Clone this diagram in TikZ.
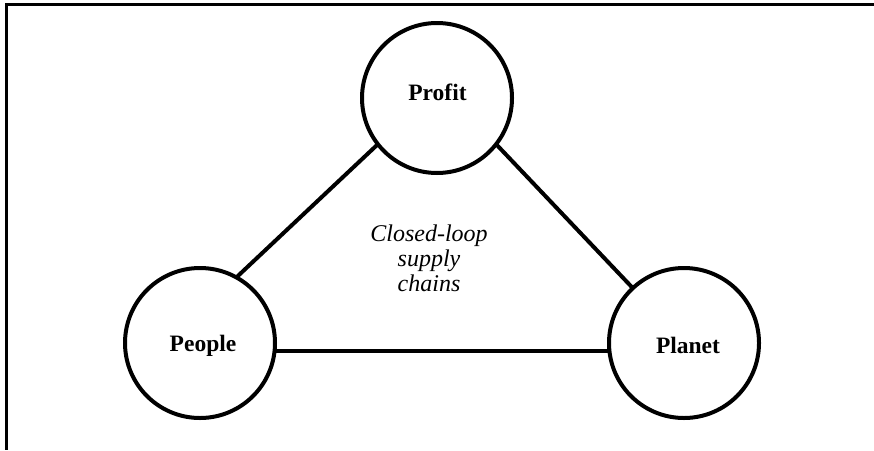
\documentclass[tikz,border=0pt]{standalone}
\usepackage{fontspec}
\setmainfont{Liberation Serif}
\begin{document}
\begin{tikzpicture}[x=1pt,y=-1pt,
  pillar/.style={circle,draw,line width=4pt,minimum size=150pt,inner sep=0pt,outer sep=0pt},
  pillarlabel/.style={font=\fontsize{23.5}{26}\selectfont\bfseries,anchor=base,inner sep=0pt},
  link/.style={line width=4pt},
  frameline/.style={line width=3pt}]
  \useasboundingbox (0,0) rectangle (874,450);
  % frame: top and left edges only
  \coordinate (frametop) at (5,4.5);
  \coordinate (frameright) at (874,4.5);
  \coordinate (framebottom) at (6.5,450);
  \draw[frameline] (frameright) -- (6.5,4.5) -- (framebottom);
  % the three pillars
  \node[pillar] (profit) at (437,98) {};
  \node[pillar] (people) at (200,343) {};
  \node[pillar] (planet) at (684,343) {};
  \node[pillarlabel] (profitlabel) at (437.5,100.5) {Profit};
  \node[pillarlabel] (peoplelabel) at (203,351.5) {People};
  \node[pillarlabel] (planetlabel) at (688,353) {Planet};
  % connecting edges
  \draw[link] (profit.218) -- (people.61);
  \draw[link] (profit.322) -- (planet.133);
  \draw[link] (people.-6.9) -- (planet.186.9);
  % centre caption (base anchor sits on the last line)
  \node[font=\fontsize{24}{25}\selectfont\itshape,align=center,anchor=base,inner sep=0pt] (caption) at (429,291.7)
    {Closed-loop\\supply\\chains};
\end{tikzpicture}
\end{document}
